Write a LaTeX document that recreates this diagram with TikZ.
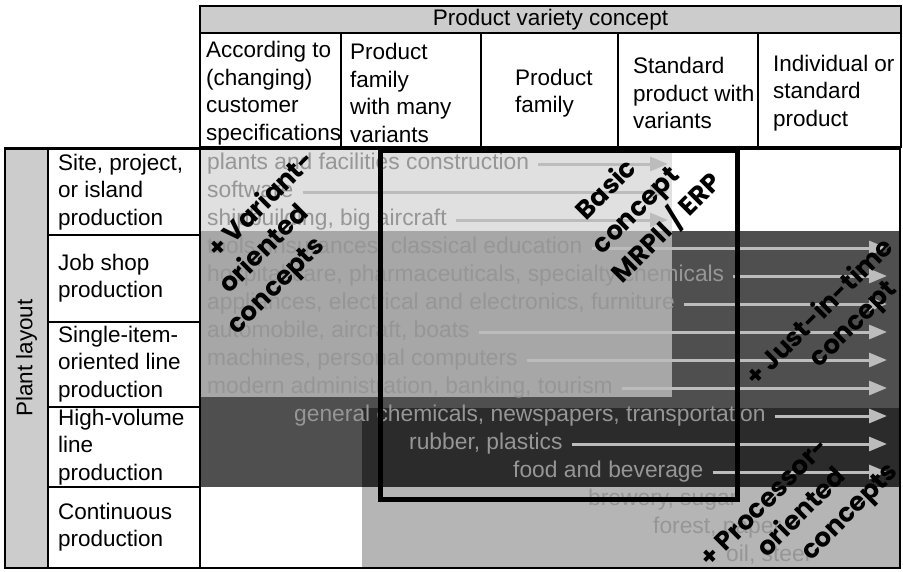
\documentclass[tikz,border=0pt]{standalone}
\usepackage{fontspec}
\setmainfont{Liberation Sans}
\newfontfamily\poppins{Poppins}
\usetikzlibrary{arrows.meta}

\definecolor{headgray}{HTML}{CCCCCC}
\definecolor{lightarea}{HTML}{E0E0E0}
\definecolor{midarea}{HTML}{A7A7A7}
\definecolor{darkarea}{HTML}{4F4F4F}
\definecolor{darkerarea}{HTML}{2B2B2B}
\definecolor{procarea}{HTML}{B5B5B5}
\definecolor{itemgray}{HTML}{969696}
\definecolor{arrowgray}{HTML}{BCBCBC}

\tikzset{
  cell/.style={anchor=west, align=left, inner sep=4pt,
    font=\fontsize{22.5}{27.5}\selectfont},
  item/.style={anchor=west, text=itemgray, inner sep=4pt,
    text height=15pt, text depth=3.5pt, font=\fontsize{22.8}{27.5}\selectfont},
  flow/.style={arrowgray, line width=3pt, shorten <=5pt,
    -{Triangle[length=18pt,width=14pt]}},
  concept/.style={rotate=45, inner sep=0pt, text height=18pt, text depth=4.5pt,
    font=\poppins\bfseries\fontsize{26}{30}\selectfont},
  grid/.style={line width=1.6pt}
}

\begin{document}
\begin{tikzpicture}[x=1pt,y=-1pt]
  \useasboundingbox (0,0) rectangle (903,571);
  \coordinate (endA) at (668,0);
  \coordinate (endB) at (887,0);

  % shaded areas
  \fill[darkarea] (200,231) rectangle (900,487);
  \fill[lightarea] (200,148) rectangle (672,231);
  \fill[midarea] (200,231) rectangle (672,397);
  \fill[darkerarea] (362,408) rectangle (900,487);
  \fill[procarea] (362,487) rectangle (900,568);

  % industries
  \node[item] (plants) at (203,164) {plants and facilities construction};
  \node[item] (software) at (203,192) {software};
  \node[item] (ships) at (203,220) {shipbuilding, big aircraft};
  \node[item] (tools) at (203,248) {tools, insurances, classical education};
  \node[item] (hospital) at (203,276) {hospital care, pharmaceuticals, specialty chemicals};
  \node[item] (appliances) at (203,304) {appliances, electrical and electronics, furniture};
  \node[item] (automobile) at (203,332) {automobile, aircraft, boats};
  \node[item] (machines) at (203,360) {machines, personal computers};
  \node[item] (admin) at (203,388) {modern administration, banking, tourism};
  \node[item] (chemicals) at (290,416) {general chemicals, newspapers, transportation};
  \node[item] (rubber) at (405,444) {rubber, plastics};
  \node[item] (food) at (509,472) {food and beverage};
  \node[item] (brewery) at (584,500) {brewery, sugar};
  \node[item] (forest) at (649,528) {forest, paper};
  \node[item] (oil) at (722,556) {oil, steel};

  \draw[flow] (plants.east) -- (plants.east -| endA);
  \draw[flow] (software.east) -- (software.east -| endA);
  \draw[flow] (ships.east) -- (ships.east -| endA);
  \draw[flow] (tools.east) -- (tools.east -| endB);
  \draw[flow] (hospital.east) -- (hospital.east -| endB);
  \draw[flow] (appliances.east) -- (appliances.east -| endB);
  \draw[flow] (automobile.east) -- (automobile.east -| endB);
  \draw[flow] (machines.east) -- (machines.east -| endB);
  \draw[flow] (admin.east) -- (admin.east -| endB);
  \draw[flow] (chemicals.east) -- (chemicals.east -| endB);
  \draw[flow] (rubber.east) -- (rubber.east -| endB);
  \draw[flow] (food.east) -- (food.east -| endB);

  % MRPII / ERP frame
  \draw[line width=5pt] (380,150) rectangle (737.5,499);

  % table head
  \draw[grid, fill=headgray] (200,6) rectangle (901,33);
  \node (variety) at (550.5,19.5) [font=\fontsize{22.5}{27.5}\selectfont] {Product variety concept};
  \draw[grid] (200,33) rectangle (901,147);
  \draw[grid] (341,33) -- (341,147);
  \draw[grid] (481,33) -- (481,147);
  \draw[grid] (618,33) -- (618,147);
  \draw[grid] (758,33) -- (758,147);
  \node[cell] (custom) at (202,93) {According to\\(changing)\\customer\\specifications};
  \node[cell] (manyvar) at (346,93) {Product\\family\\with many\\variants};
  \node[cell] (family) at (511,93) {Product\\family};
  \node[cell] (stdvar) at (629,93) {Standard\\product with\\variants};
  \node[cell] (indiv) at (769,93) {Individual or\\standard\\product};

  % table side
  \draw[grid, fill=headgray] (5,148) rectangle (48,568);
  \node[rotate=90, font=\fontsize{22.5}{27.5}\selectfont] (layout) at (26.5,358) {Plant layout};
  \draw[grid] (48,235) -- (200,235);
  \draw[grid] (48,322) -- (200,322);
  \draw[grid] (48,407) -- (200,407);
  \draw[grid] (48,487) -- (200,487);
  \draw[grid] (200,148) -- (200,568);
  \draw[grid] (900,148) -- (900,568) -- (5,568);
  \draw[line width=3pt] (5,148) -- (901,148);
  \node[cell] (site) at (54,192) {Site, project,\\or island\\production};
  \node[cell] (jobshop) at (54,278) {Job shop\\production};
  \node[cell] (single) at (54,364) {Single-item-\\oriented line\\production};
  \node[cell] (highvol) at (54,447) {High-volume\\line\\production};
  \node[cell] (contin) at (54,527) {Continuous\\production};

  % concepts
  \node[concept] (variant1) at (262.5,206) {+ Variant-};
  \node[concept] (variant2) at (265,250) {oriented};
  \node[concept] (variant3) at (277,286.5) {concepts};
  \node[concept] (basic1) at (607.5,191) {Basic};
  \node[concept] (basic2) at (637,211.5) {concept};
  \node[concept] (basic3) at (668,229.5) {MRPII / ERP};
  \node[concept] (jit1) at (821,313.5) {+ Just-in-time};
  \node[concept] (jit2) at (854,325) {concept};
  \node[concept] (proc1) at (765.5,503.5) {+ Processor-};
  \node[concept] (proc2) at (802.5,513.5) {oriented};
  \node[concept] (proc3) at (850.5,512.5) {concepts};
\end{tikzpicture}
\end{document}
